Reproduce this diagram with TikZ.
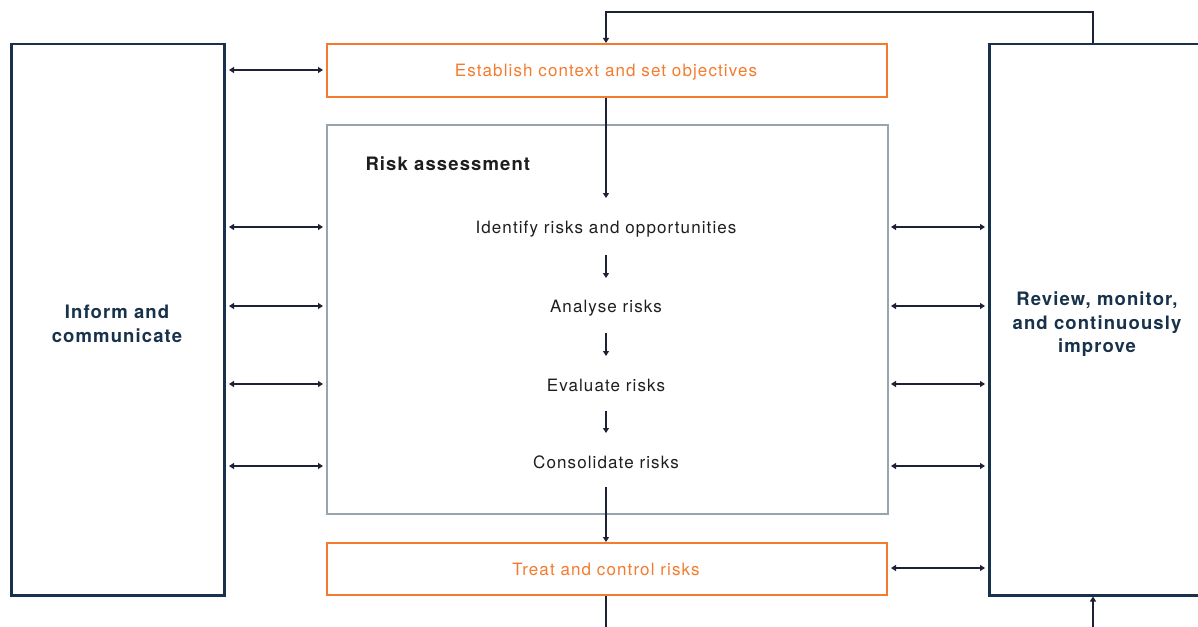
\documentclass[tikz,border=0pt]{standalone}
\usepackage{fontspec}
\setmainfont{TeX Gyre Heros}
\usetikzlibrary{arrows.meta,calc}
\definecolor{navy}{HTML}{17324A}
\definecolor{orng}{HTML}{F47B2E}
\definecolor{greyb}{HTML}{98A5AE}
\definecolor{arr}{HTML}{1C2233}
\definecolor{txt}{HTML}{1E1E1E}
\newfontfamily\regfont[LetterSpace=6.5]{TeX Gyre Heros}
\newfontfamily\boldfont[LetterSpace=6]{TeX Gyre Heros Bold}
\begin{document}
\begin{tikzpicture}[x=1pt,y=-1pt,
  sidebox/.style={draw=navy,line width=2.5pt,anchor=north west,inner sep=0pt},
  obox/.style={draw=orng,line width=2.2pt,anchor=north west,inner sep=0pt},
  gbox/.style={draw=greyb,line width=2.2pt,anchor=north west,inner sep=0pt},
  steptxt/.style={text=txt,font=\regfont\fontsize{17}{20}\selectfont},
  otxt/.style={text=orng,font=\regfont\fontsize{17}{20}\selectfont},
  sidetxt/.style={text=navy,font=\boldfont\fontsize{18.5}{23.5}\selectfont,align=center},
  con/.style={draw=arr,line width=1.2pt},
  ar/.style={con,-{Triangle[width=6pt,length=5pt]}},
  dar/.style={con,{Triangle[width=6pt,length=5pt]}-{Triangle[width=6pt,length=5pt]}}
]
\useasboundingbox (0,0) rectangle (1198,626);
\clip (0,0) rectangle (1198,626);
\node[sidebox,minimum width=213pt,minimum height=551pt] (inf) at (10,43) {};
\node[sidebox,minimum width=240pt,minimum height=551pt] (rev) at (988,43) {};
\node[obox,minimum width=560pt,minimum height=53pt] (est) at (326,43) {};
\node[gbox,minimum width=561pt,minimum height=389pt] (ra) at (326,124) {};
\node[obox,minimum width=560pt,minimum height=52pt] (trt) at (326,542) {};

\node[otxt] (estt) at (606,72) {Establish context and set objectives};
\node[otxt] (trtt) at (606,569.5) {Treat and control risks};
\node[sidetxt] (inft) at (117,324) {Inform and\\communicate};
\node[sidetxt] (revt) at (1097,324.5) {Review, monitor,\\and continuously\\improve};
\node[text=txt,font=\boldfont\fontsize{18.5}{22}\selectfont,anchor=west] (rat) at (362,164) {Risk assessment};

\node[steptxt] (s1) at (606,229) {Identify risks and opportunities};
\node[steptxt] (s2) at (606,308) {Analyse risks};
\node[steptxt] (s3) at (606,385) {Evaluate risks};
\node[steptxt] (s4) at (606,462.5) {Consolidate risks};

\coordinate (topc) at (606,12);
\coordinate (in1) at (606,198);
\coordinate (botl) at (606,630);
\coordinate (botr) at (1093,630);

% top feedback
\draw[ar] (rev.north -| 1093,0) |- (topc) -- (est.north -| topc);
% main flow
\draw[ar] (est.south -| topc) -- (in1);
\draw[ar] (606,255) -- (606,278);
\draw[ar] (606,333) -- (606,356);
\draw[ar] (606,411) -- (606,433);
\draw[ar] (606,487) -- (trt.north -| topc);
\draw[con] (trt.south -| topc) -- (botl);
\draw[ar] (botr) -- (rev.south -| botr);

% left double arrows
\foreach \yy in {70,227,306,384,466}{\draw[dar] (229,\yy) -- (323,\yy);}
% right double arrows
\foreach \yy in {227,306,384,466,568}{\draw[dar] (891,\yy) -- (985,\yy);}
\end{tikzpicture}
\end{document}
